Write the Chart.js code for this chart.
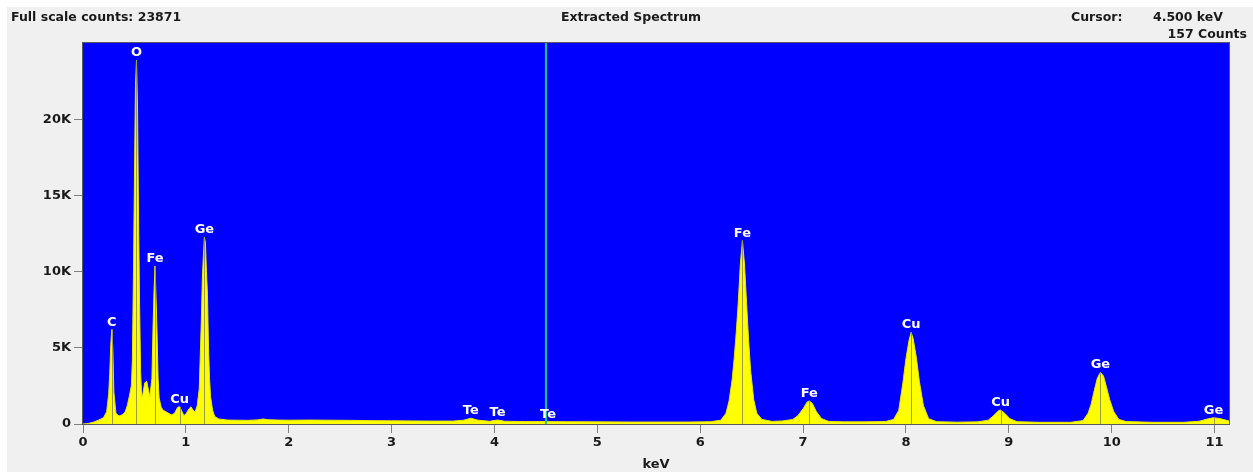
<!DOCTYPE html>
<html>
<head>
<meta charset="utf-8">
<script src="https://cdn.jsdelivr.net/npm/chart.js@4/dist/chart.umd.min.js"></script>
<style>
  html, body { margin: 0; padding: 0; background: #fff; }
  #panel { position: absolute; left: 7px; top: 7px; width: 1246px; height: 465px; background: #f0f0f0; }
  #spectrum { position: absolute; left: 0; top: 0; }
  .hdr { position: absolute; font: bold 12.5px "DejaVu Sans", sans-serif; color: #1a1a1a; white-space: nowrap; line-height: 16px; }
</style>
</head>
<body>
<div id="panel">
  <canvas id="spectrum" width="1246" height="465"></canvas>
  <div class="hdr" style="left:4px; top:2px;">Full scale counts: 23871</div>
  <div class="hdr" style="left:474px; width:300px; text-align:center; top:2px;">Extracted Spectrum</div>
  <div class="hdr" style="left:1064px; top:2px;">Cursor:</div>
  <div class="hdr" style="right:30px; top:2px;">4.500 keV</div>
  <div class="hdr" style="right:6px; top:19px;">157 Counts</div>
</div>
<script>
// spectrum (keV, counts)
const energy = [
  0.00, 0.05, 0.10, 0.15, 0.20, 0.23, 0.25, 0.26, 0.27, 0.28, 0.29, 0.30, 0.32, 0.35, 0.38, 0.41, 0.43, 0.45,
  0.47, 0.48, 0.49, 0.50, 0.51, 0.52, 0.53, 0.54, 0.55, 0.56, 0.57, 0.58, 0.60, 0.62, 0.64, 0.65, 0.67, 0.68,
  0.69, 0.70, 0.71, 0.72, 0.73, 0.74, 0.76, 0.78, 0.82, 0.86, 0.89, 0.92, 0.94, 0.96, 0.98, 1.00, 1.03, 1.05,
  1.07, 1.09, 1.11, 1.13, 1.15, 1.16, 1.17, 1.18, 1.19, 1.20, 1.21, 1.22, 1.23, 1.24, 1.26, 1.28, 1.32, 1.40,
  1.50, 1.60, 1.70, 1.75, 1.80, 1.90, 2.00, 2.20, 2.40, 2.60, 2.80, 3.00, 3.20, 3.40, 3.60, 3.70, 3.77, 3.84,
  3.95, 4.03, 4.10, 4.30, 4.50, 4.70, 5.00, 5.30, 5.60, 5.90, 6.10, 6.20, 6.25, 6.28, 6.31, 6.33, 6.35, 6.37,
  6.39, 6.41, 6.43, 6.45, 6.47, 6.49, 6.52, 6.55, 6.60, 6.70, 6.80, 6.90, 6.95, 7.00, 7.04, 7.06, 7.09, 7.13,
  7.18, 7.25, 7.40, 7.60, 7.80, 7.88, 7.93, 7.97, 8.00, 8.03, 8.05, 8.07, 8.10, 8.13, 8.17, 8.22, 8.30, 8.50,
  8.70, 8.80, 8.86, 8.90, 8.92, 8.96, 9.01, 9.08, 9.30, 9.60, 9.72, 9.77, 9.80, 9.83, 9.86, 9.89, 9.92, 9.95,
  9.98, 10.02, 10.07, 10.14, 10.40, 10.70, 10.85, 10.93, 10.99, 11.05, 11.14
];
const counts = [
  0, 30, 120, 250, 420, 800, 2000, 3300, 5200, 6200, 4900, 2100, 700, 520, 600, 800, 1200, 1800,
  2500, 4200, 9600, 16000, 22200, 23871, 20800, 13500, 7800, 3500, 1800, 1900, 2700, 2800, 2100, 1800, 3000, 6100,
  8600, 10370, 8300, 5900, 3000, 1700, 1100, 900, 750, 600, 700, 1100, 1130, 850, 550, 650, 1000, 1130,
  900, 800, 1200, 2300, 6700, 9500, 11000, 12250, 11900, 10000, 8500, 5000, 3000, 1800, 900, 500, 330, 260,
  250, 240, 270, 330, 280, 260, 250, 260, 250, 240, 220, 210, 200, 190, 190, 250, 380, 250,
  180, 260, 180, 160, 157, 150, 140, 130, 130, 130, 150, 250, 700, 1500, 2900, 4300, 6000, 8000,
  10500, 12030, 10500, 8000, 5500, 3500, 1600, 700, 300, 170, 200, 300, 550, 1000, 1450, 1510, 1350, 800,
  350, 170, 140, 140, 160, 300, 900, 2700, 4300, 5500, 6010, 5600, 4400, 2800, 1200, 350, 150, 120,
  140, 250, 600, 880, 920, 700, 350, 150, 110, 110, 220, 700, 1300, 2200, 3000, 3390, 3150, 2400,
  1600, 800, 300, 160, 110, 110, 180, 330, 410, 360, 200
];

// element lines: name, energy (keV), peak counts
const peakNames   = ['C', 'O', 'Fe', 'Cu', 'Ge', 'Te', 'Te', 'Te', 'Fe', 'Fe', 'Cu', 'Cu', 'Ge', 'Ge'];
const peakEnergy  = [0.28, 0.52, 0.70, 0.94, 1.18, 3.77, 4.03, 4.52, 6.41, 7.06, 8.05, 8.92, 9.89, 10.99];
const peakCounts  = [6200, 23871, 10370, 1130, 12250, 380, 260, 157, 12030, 1510, 6010, 920, 3390, 410];
const peakMarked  = [true, true, true, true, true, false, false, false, true, true, true, true, true, true];

const xTicks = [0, 1, 2, 3, 4, 5, 6, 7, 8, 9, 10, 11];
const yTicks = [0, 5000, 10000, 15000, 20000];
const cursorKeV = 4.5;

const tickFont = { family: 'DejaVu Sans', size: 13, weight: 'bold' };

const spectrumDecor = {
  id: 'spectrumDecor',
  beforeDatasetsDraw(chart) {
    const { ctx, chartArea: a } = chart;
    ctx.save();
    ctx.fillStyle = '#0000ff';
    ctx.fillRect(a.left, a.top, a.right - a.left, a.bottom - a.top);
    ctx.restore();
  },
  afterDatasetsDraw(chart) {
    const { ctx, chartArea: a, scales } = chart;
    const xs = scales.x, ys = scales.y;
    ctx.save();
    // marker lines through the peaks
    ctx.strokeStyle = '#9c9c40';
    ctx.lineWidth = 1;
    peakEnergy.forEach((e, i) => {
      if (!peakMarked[i]) return;
      const px = Math.round(xs.getPixelForValue(e)) + 0.5;
      ctx.beginPath();
      ctx.moveTo(px, ys.getPixelForValue(0));
      ctx.lineTo(px, ys.getPixelForValue(peakCounts[i]));
      ctx.stroke();
    });
    // cursor
    const cx = xs.getPixelForValue(cursorKeV);
    ctx.strokeStyle = '#1ec88c';
    ctx.lineWidth = 2;
    ctx.beginPath();
    ctx.moveTo(cx, a.top);
    ctx.lineTo(cx, a.bottom);
    ctx.stroke();
    // labels
    ctx.fillStyle = '#ffffff';
    ctx.font = 'bold 13px "DejaVu Sans"';
    ctx.textAlign = 'center';
    ctx.textBaseline = 'alphabetic';
    peakEnergy.forEach((e, i) => {
      const px = xs.getPixelForValue(e);
      const py = ys.getPixelForValue(peakCounts[i]);
      ctx.fillText(peakNames[i], px, py - 4);
    });
    ctx.restore();
  },
  afterDraw(chart) {
    const { ctx, chartArea: a } = chart;
    ctx.save();
    ctx.strokeStyle = '#5a5a5a';
    ctx.lineWidth = 1;
    ctx.strokeRect(a.left - 0.5, a.top - 0.5, a.right - a.left + 1, a.bottom - a.top + 1);
    ctx.restore();
  }
};

new Chart(document.getElementById('spectrum'), {
  type: 'line',
  data: {
    datasets: [{
      data: energy.map((e, i) => ({ x: e, y: counts[i] })),
      borderColor: '#e8e800',
      borderWidth: 1,
      backgroundColor: '#ffff00',
      fill: 'origin',
      pointRadius: 0,
      tension: 0
    }]
  },
  options: {
    responsive: false,
    animation: false,
    devicePixelRatio: 1,
    layout: { padding: { left: 0, top: 36, right: 24, bottom: 0 } },
    plugins: { legend: { display: false }, tooltip: { enabled: false } },
    scales: {
      x: {
        type: 'linear',
        min: 0,
        max: 11.14,
        afterFit: s => { s.height = 48; },
        afterBuildTicks: s => { s.ticks = xTicks.map(v => ({ value: v })); },
        ticks: { font: tickFont, color: '#1a1a1a', padding: 2, maxRotation: 0, includeBounds: false },
        grid: { drawOnChartArea: false, drawTicks: true, tickLength: 9, color: '#808080' },
        border: { display: true, color: '#5a5a5a' },
        title: { display: true, text: 'keV', font: tickFont, color: '#1a1a1a', padding: { top: 2, bottom: 0 } }
      },
      y: {
        type: 'linear',
        min: 0,
        max: 25000,
        afterFit: s => { s.width = 76; },
        afterBuildTicks: s => { s.ticks = yTicks.map(v => ({ value: v })); },
        ticks: {
          font: tickFont, color: '#1a1a1a', padding: 3,
          callback: v => v === 0 ? '0' : (v / 1000) + 'K'
        },
        grid: { drawOnChartArea: false, drawTicks: true, tickLength: 9, color: '#808080' },
        border: { display: true, color: '#5a5a5a' }
      }
    }
  },
  plugins: [spectrumDecor]
});
</script>
</body>
</html>
